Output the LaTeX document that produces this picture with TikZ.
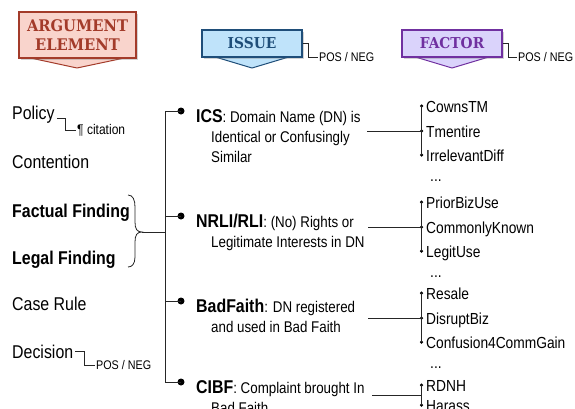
\documentclass[tikz,border=0pt]{standalone}
\usepackage{fontspec}
\setmainfont{Liberation Sans}[FakeStretch=0.86]
\newfontfamily\bannerfont{DejaVu Serif}[FakeStretch=0.92]
\usetikzlibrary{shadows}
\definecolor{argline}{HTML}{A33B2A}
\definecolor{argfill}{HTML}{F9D4CC}
\definecolor{issueline}{HTML}{1F4E79}
\definecolor{issuefill}{HTML}{BFE3FA}
\definecolor{factorline}{HTML}{7030A0}
\definecolor{factorfill}{HTML}{DAD3FB}
\tikzset{
  banner/.style={draw=#1line, fill=#1fill, text=#1line, line width=1.2pt, inner sep=0pt, align=center,
    drop shadow={shadow xshift=1.5pt, shadow yshift=-1.5pt, opacity=0.35}},
  bannertail/.style={draw=#1line, fill=#1fill, line width=1pt, line join=round},
  conn/.style={black!85, line width=0.8pt},
  posneg/.style={inner sep=1pt, font=\fontsize{12.5}{14}\selectfont},
  element/.style={inner sep=0pt, anchor=base west, font=\fontsize{18.5}{21}\selectfont},
  issuehead/.style={inner sep=0pt, anchor=base west, font=\fontsize{15.5}{18}\selectfont},
  issuedot/.style={circle, fill=black, inner sep=0pt, minimum size=7pt},
  factoritem/.style={inner sep=0pt, anchor=base west, font=\fontsize{16}{18}\selectfont},
  factordot/.style={circle, fill=black, inner sep=0pt, minimum size=3.5pt}
}
\begin{document}
\begin{tikzpicture}[x=1pt, y=-1pt]
		\useasboundingbox (0,0) rectangle (575,408);
		\clip (0,0) rectangle (575,408);
		
		%banners
		\draw[bannertail=arg] (26,57) -- (77,68) -- (129,57) -- cycle;
		\node[banner=arg, minimum width=117pt, minimum height=46pt,
			font={\bannerfont\bfseries\fontsize{16}{19}\selectfont}] (argbox) at (77.5,35) {ARGUMENT\\ELEMENT};
		
		\draw[bannertail=issue] (212,56) -- (252,68) -- (292,56) -- cycle;
		\node[banner=issue, minimum width=100pt, minimum height=27pt,
			font={\bannerfont\bfseries\fontsize{15}{17}\selectfont}] (issuebox) at (252,43.5) {ISSUE};
		\node[posneg, anchor=west] (issuepos) at (318,57) {POS / NEG};
		\draw[conn] (issuebox.east) -- ++(6,0) |- (issuepos.west);
		
		\draw[bannertail=factor] (412,56) -- (452,68) -- (492,56) -- cycle;
		\node[banner=factor, minimum width=100pt, minimum height=27pt,
			font={\bannerfont\bfseries\fontsize{15}{17}\selectfont}] (factorbox) at (452,43.5) {FACTOR};
		\node[posneg, anchor=west] (factorpos) at (517,57) {POS / NEG};
		\draw[conn] (factorbox.east) -- ++(6,0) |- (factorpos.west);
		
		%argument elements
		\node[element] (policy) at (12,119) {Policy};
		\node[element] (contention) at (12,168) {Contention};
		\node[element] (factual) at (12,217) {\bfseries Factual Finding};
		\node[element] (legal) at (12,264) {\bfseries Legal Finding};
		\node[element] (caserule) at (12,310) {Case Rule};
		\node[element] (decision) at (12,358) {Decision};
		
		\node[posneg, anchor=west, font=\fontsize{14}{16}\selectfont] (cite) at (76,130) {¶ citation};
		\draw[conn] ([xshift=2pt, yshift=1pt]policy.base east) -- ++(9,0) |- (cite.west);
		\node[posneg, anchor=west] (decisionpos) at (95,365) {POS / NEG};
		\draw[conn] ([xshift=2pt]decision.east) -- ++(9,0) |- (decisionpos.west);
		
		%brace over the findings
		\coordinate (bracetip) at (142,232);
		\draw[conn] (128,195) .. controls (133,195) and (135,200) .. (135,207) -- (135,222)
			.. controls (135,229) and (137,232) .. (bracetip)
			.. controls (137,232) and (135,235) .. (135,242) -- (135,257)
			.. controls (135,264) and (132,267) .. (128,267);
		
		%issues
		\node[issuedot] (icsdot) at (181,111) {};
		\node[issuedot] (nrlidot) at (181,216) {};
		\node[issuedot] (baddot) at (181,301) {};
		\node[issuedot] (cibfdot) at (181,382) {};
		\coordinate (trunktop) at (165,111);
		\coordinate (trunkbot) at (165,382);
		\draw[conn] (icsdot.center) -- (trunktop) -- (trunkbot) -- (cibfdot.center);
		\draw[conn] (nrlidot.center) -- (nrlidot.center -| trunktop);
		\draw[conn] (baddot.center) -- (baddot.center -| trunktop);
		\draw[conn] (bracetip) -- (bracetip -| trunktop);
		
		\node[issuehead] (ics) at (196,122) {\textbf{\fontsize{18.5}{20}\selectfont ICS}: Domain Name (DN) is};
		\foreach \t [count=\i] in {Identical or Confusingly, Similar}
			\node[issuehead] at (211,122+20*\i) {\t};
		\node[issuehead] (nrli) at (196,227) {\textbf{\fontsize{18.5}{20}\selectfont NRLI/RLI}: (No) Rights or};
		\node[issuehead] at (211,247) {Legitimate Interests in DN};
		\node[issuehead] (bad) at (196,312) {\textbf{\fontsize{18.5}{20}\selectfont BadFaith}: DN registered};
		\node[issuehead] at (211,332) {and used in Bad Faith};
		\node[issuehead] (cibf) at (196,393) {\textbf{\fontsize{18.5}{20}\selectfont CIBF}: Complaint brought In};
		\node[issuehead] at (211,413) {Bad Faith};
		
		\coordinate (icsout) at (367,131);
		\coordinate (nrliout) at (368,227);
		\coordinate (badout) at (368,318);
		\coordinate (cibfout) at (372,395);
		
		%factors
		\foreach \f/\y in {CownsTM/112, Tmentire/137, IrrelevantDiff/161,
			PriorBizUse/208, CommonlyKnown/233, LegitUse/257,
			Resale/299, DisruptBiz/324, Confusion4CommGain/348,
			RDNH/391, Harass/411}{
			\node[factoritem] (\f) at (426,\y) {\f};
			\node[factordot] (d-\f) at (421.5,\y-6) {};
		}
		\foreach \y in {181, 277, 368}
			\node[factoritem] at (430,\y) {...};
		
		\draw[conn] (d-CownsTM.center) -- (d-IrrelevantDiff.center);
		\draw[conn] (d-PriorBizUse.center) -- (d-LegitUse.center);
		\draw[conn] (d-Resale.center) -- (d-Confusion4CommGain.center);
		\draw[conn] (d-RDNH.center) -- (d-Harass.center);
		
		\draw[conn] (icsout) -- (d-Tmentire.center);
		\draw[conn] (nrliout) -- (d-CommonlyKnown.center);
		\draw[conn] (badout) -- (d-DisruptBiz.center);
		\draw[conn] (cibfout) -- (cibfout -| d-RDNH.center);
\end{tikzpicture}
\end{document}
